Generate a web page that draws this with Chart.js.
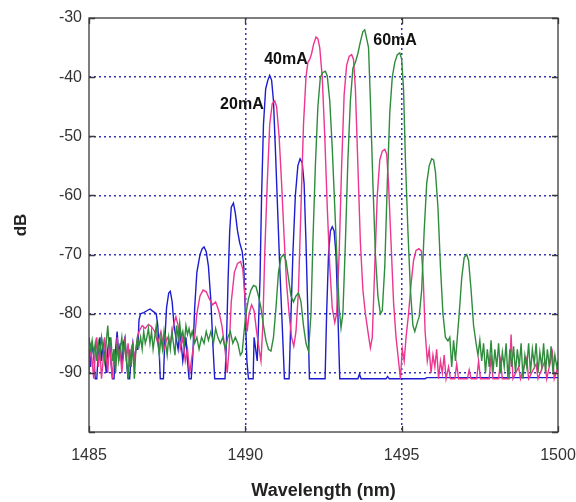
<!DOCTYPE html>
<html>
<head>
<meta charset="utf-8">
<script src="https://cdn.jsdelivr.net/npm/chart.js@4.4.1/dist/chart.umd.min.js"></script>
<style>
html,body{margin:0;padding:0;background:#fff;}
#wrap{width:576px;height:502px;}
</style>
</head>
<body>
<div id="wrap"><canvas id="c" width="576" height="502"></canvas></div>
<script>
// ---- data (wavelength nm, level dB) ----
const xTickValues = [1485, 1490, 1495, 1500];
const yTickValues = [-30, -40, -50, -60, -70, -80, -90, -100];
const seriesNames = ['20mA', '40mA', '60mA'];
const labelPositions = [[1489.89, -44.7], [1491.30, -37.0], [1494.79, -33.9]];

const trace20mA = [
[1485.00,-86],[1485.05,-89],[1485.10,-85],[1485.15,-87],[1485.20,-91],[1485.25,-91],[1485.30,-86],[1485.35,-84],[1485.40,-88],[1485.45,-85],
[1485.50,-87],[1485.55,-90],[1485.60,-86],[1485.65,-84],[1485.70,-88],[1485.75,-91],[1485.80,-91],[1485.85,-86],[1485.90,-83],[1485.95,-87],
[1486.00,-85],[1486.05,-89],[1486.10,-85],[1486.15,-84],[1486.20,-88],[1486.25,-91],[1486.30,-91],[1486.35,-87],[1486.40,-85],[1486.45,-88],
[1486.50,-86],[1486.56,-86],[1486.60,-81],[1486.65,-80],[1486.75,-79.8],[1486.85,-79.5],[1486.95,-79.2],[1487.05,-79.6],[1487.15,-80],[1487.20,-82],
[1487.25,-87],[1487.28,-91],[1487.38,-91],[1487.42,-85],[1487.48,-79],[1487.55,-76.5],[1487.60,-76.2],[1487.66,-78],[1487.72,-82],[1487.78,-84],
[1487.85,-86],[1487.90,-83],[1487.95,-85],[1488.00,-88],[1488.05,-86],[1488.10,-84],[1488.15,-88],[1488.20,-91],[1488.27,-91],[1488.32,-87],
[1488.38,-79],[1488.45,-73],[1488.55,-70],[1488.62,-69],[1488.68,-68.7],[1488.75,-69.5],[1488.82,-72],[1488.90,-78],[1488.96,-85],[1489.02,-91],
[1489.35,-91],[1489.40,-84],[1489.45,-74],[1489.50,-66],[1489.55,-62],[1489.62,-61.3],[1489.68,-63],[1489.75,-66],[1489.82,-68],[1489.90,-69.5],
[1489.95,-72],[1490.00,-80],[1490.05,-88],[1490.10,-91],[1490.25,-91],[1490.28,-84],[1490.33,-86],[1490.38,-88],[1490.42,-82],[1490.47,-74],
[1490.52,-60],[1490.58,-48],[1490.65,-42],[1490.72,-40.5],[1490.78,-39.7],[1490.84,-40.5],[1490.90,-44],[1490.96,-52],[1491.03,-62],[1491.10,-72],
[1491.18,-82],[1491.25,-91],[1491.40,-91],[1491.45,-82],[1491.52,-70],[1491.60,-60],[1491.68,-55],[1491.75,-53.8],[1491.82,-54.5],[1491.88,-58],
[1491.94,-68],[1492.00,-80],[1492.05,-91],[1492.55,-91],[1492.60,-80],[1492.66,-70],[1492.72,-66],[1492.78,-65.3],[1492.84,-66],[1492.90,-70],
[1492.96,-80],[1493.02,-91],[1493.60,-91],[1493.65,-90.2],[1493.70,-91],[1494.50,-91],[1494.55,-90.6],[1494.60,-91],[1495.75,-91],[1495.80,-90.8],
[1500.00,-90.8]
];

const trace40mA = [
[1485.00,-90],[1485.05,-85],[1485.10,-88],[1485.15,-91],[1485.20,-87],[1485.25,-84],[1485.30,-89],[1485.35,-86],[1485.40,-91],[1485.45,-88],
[1485.50,-84],[1485.55,-87],[1485.60,-90],[1485.65,-85],[1485.70,-88],[1485.75,-91],[1485.80,-86],[1485.85,-89],[1485.90,-84],[1485.95,-88],
[1486.00,-86],[1486.05,-90],[1486.10,-87],[1486.15,-84],[1486.20,-88],[1486.25,-85],[1486.30,-89],[1486.35,-86],[1486.40,-85],[1486.45,-88],
[1486.50,-86],[1486.55,-84],[1486.60,-83],[1486.70,-82],[1486.80,-82.5],[1486.90,-81.8],[1487.00,-82.2],[1487.10,-83],[1487.20,-85],[1487.30,-83],
[1487.40,-86],[1487.50,-84],[1487.60,-85],[1487.70,-82],[1487.78,-80.5],[1487.85,-82],[1487.92,-86],[1488.00,-84],[1488.08,-88],[1488.15,-86],
[1488.22,-90],[1488.30,-87],[1488.38,-84],[1488.45,-80],[1488.55,-77],[1488.65,-76],[1488.75,-76.3],[1488.85,-77.5],[1488.95,-78.5],[1489.05,-78],
[1489.15,-79.5],[1489.25,-82],[1489.35,-86],[1489.42,-90],[1489.48,-86],[1489.55,-78],[1489.65,-73],[1489.75,-71.5],[1489.85,-71.2],[1489.92,-72.5],
[1490.00,-78],[1490.06,-83],[1490.12,-80],[1490.20,-78.5],[1490.28,-79.5],[1490.36,-83],[1490.44,-86],[1490.50,-88],[1490.56,-82],[1490.62,-70],
[1490.70,-58],[1490.78,-48],[1490.86,-44.5],[1490.94,-44],[1491.00,-45],[1491.08,-50],[1491.16,-58],[1491.24,-67],[1491.32,-75],[1491.40,-80],
[1491.48,-84],[1491.55,-85.5],[1491.62,-83],[1491.70,-76],[1491.78,-62],[1491.86,-48],[1491.94,-40],[1492.00,-37.5],[1492.06,-37],[1492.12,-36],
[1492.18,-34.5],[1492.26,-33.2],[1492.32,-33.5],[1492.38,-35],[1492.46,-40],[1492.54,-50],[1492.62,-62],[1492.70,-72],[1492.78,-79],[1492.86,-81.5],
[1492.92,-80],[1493.00,-70],[1493.08,-55],[1493.16,-43],[1493.24,-38],[1493.32,-36.5],[1493.40,-36.2],[1493.46,-37],[1493.52,-42],[1493.60,-55],
[1493.68,-68],[1493.76,-76],[1493.84,-80],[1493.92,-83],[1494.00,-85.8],[1494.06,-84],[1494.14,-72],[1494.22,-60],[1494.30,-54],[1494.38,-52.5],
[1494.46,-52.2],[1494.52,-53],[1494.58,-58],[1494.66,-68],[1494.74,-78],[1494.82,-84],[1494.90,-88],[1494.96,-91],[1495.02,-86],[1495.08,-88],
[1495.14,-84],[1495.22,-80],[1495.30,-75],[1495.38,-71],[1495.46,-69.3],[1495.55,-69],[1495.63,-69.4],[1495.69,-74],[1495.75,-83],[1495.82,-88],
[1495.88,-86],[1495.94,-90],[1496.00,-87],[1496.06,-89],[1496.12,-86],[1496.18,-91],[1496.24,-88],[1496.30,-90],[1496.36,-87],[1496.42,-91],
[1496.50,-89],[1496.56,-91],[1496.70,-91],[1496.76,-88.5],[1496.82,-91],[1497.10,-91],[1497.16,-89.5],[1497.22,-91],[1497.40,-91],[1497.46,-88],
[1497.52,-91],[1497.80,-91],[1497.86,-87],[1497.92,-91],[1498.10,-91],[1498.16,-88],[1498.22,-91],[1498.44,-91],[1498.50,-83.5],[1498.56,-91],
[1498.74,-89],[1498.80,-91],[1499.00,-87.5],[1499.06,-91],[1499.30,-88.5],[1499.36,-91],[1499.58,-88],[1499.64,-91],[1499.82,-86.5],[1499.88,-91],
[1500.00,-89]
];

const trace60mA = [
[1485.00,-84],[1485.05,-86],[1485.10,-84.5],[1485.15,-87],[1485.20,-85],[1485.25,-88],[1485.30,-85],[1485.35,-87],[1485.40,-84],[1485.45,-86],
[1485.50,-88],[1485.55,-85],[1485.60,-82],[1485.65,-86],[1485.70,-84],[1485.75,-88],[1485.80,-86],[1485.85,-90],[1485.90,-85],[1485.95,-88],
[1486.00,-86],[1486.05,-84],[1486.10,-87],[1486.15,-85],[1486.20,-88],[1486.25,-91],[1486.30,-86],[1486.35,-89],[1486.40,-85],[1486.45,-91],
[1486.50,-86],[1486.55,-84],[1486.60,-85.5],[1486.65,-84],[1486.70,-86],[1486.75,-83],[1486.80,-85],[1486.85,-84],[1486.90,-82.5],[1486.95,-85],
[1487.00,-83],[1487.05,-86],[1487.10,-84],[1487.15,-82],[1487.20,-85],[1487.25,-87],[1487.30,-84],[1487.35,-86],[1487.40,-83],[1487.45,-85],
[1487.50,-87],[1487.55,-84],[1487.60,-86],[1487.65,-83],[1487.70,-85],[1487.75,-87],[1487.80,-82],[1487.85,-84],[1487.90,-81.5],[1487.95,-84],
[1488.00,-83],[1488.05,-85],[1488.10,-82],[1488.15,-83.5],[1488.20,-82.5],[1488.25,-84],[1488.30,-83],[1488.38,-85],[1488.45,-84],[1488.52,-86],
[1488.60,-84],[1488.68,-85],[1488.75,-83],[1488.82,-84.5],[1488.90,-83],[1488.98,-85],[1489.05,-82.5],[1489.12,-84],[1489.20,-85],[1489.28,-84],
[1489.36,-86],[1489.44,-84],[1489.52,-83],[1489.60,-85],[1489.68,-84],[1489.76,-85],[1489.84,-87],[1489.90,-86.5],[1489.96,-83],[1490.02,-80],
[1490.10,-77.5],[1490.18,-76],[1490.26,-75.2],[1490.34,-75.4],[1490.42,-77],[1490.50,-79],[1490.58,-82],[1490.66,-84.5],[1490.74,-86],[1490.82,-86.3],
[1490.90,-84],[1490.98,-79],[1491.06,-73],[1491.14,-70.5],[1491.22,-70],[1491.30,-71],[1491.38,-74],[1491.46,-77],[1491.54,-78],[1491.62,-77],
[1491.70,-76.5],[1491.78,-78],[1491.86,-82],[1491.94,-85],[1492.02,-86.3],[1492.10,-80],[1492.16,-68],[1492.24,-55],[1492.32,-45],[1492.40,-40],
[1492.48,-39.2],[1492.56,-39],[1492.62,-39.8],[1492.70,-44],[1492.78,-52],[1492.86,-62],[1492.94,-72],[1493.00,-79],[1493.06,-82.4],[1493.12,-80],
[1493.20,-68],[1493.28,-54],[1493.36,-44],[1493.44,-38.5],[1493.52,-37.5],[1493.60,-36],[1493.68,-34],[1493.76,-32.3],[1493.82,-32],[1493.88,-33.5],
[1493.94,-35],[1494.00,-44],[1494.08,-58],[1494.16,-70],[1494.24,-77],[1494.32,-80],[1494.38,-79.5],[1494.46,-72],[1494.54,-58],[1494.62,-46],
[1494.70,-40],[1494.78,-37.5],[1494.86,-36.2],[1494.94,-35.9],[1495.00,-37],[1495.06,-42],[1495.12,-54],[1495.20,-66],[1495.28,-76],[1495.36,-82],
[1495.42,-83],[1495.50,-81.5],[1495.56,-80.5],[1495.64,-76],[1495.72,-66],[1495.80,-58],[1495.88,-55],[1495.96,-53.8],[1496.02,-54],[1496.08,-56],
[1496.16,-62],[1496.24,-72],[1496.32,-80],[1496.40,-84],[1496.48,-84.6],[1496.54,-84],[1496.60,-89],[1496.66,-84.5],[1496.72,-88],[1496.78,-84],
[1496.84,-80],[1496.92,-74],[1497.00,-70.5],[1497.08,-70],[1497.14,-71],[1497.22,-76],[1497.30,-82],[1497.38,-85],[1497.44,-87],[1497.50,-84.5],
[1497.56,-88],[1497.62,-85],[1497.68,-90],[1497.74,-86],[1497.80,-89],[1497.86,-84.5],[1497.92,-90],[1497.98,-86],[1498.04,-89],[1498.10,-85],
[1498.16,-90],[1498.22,-86.5],[1498.28,-89],[1498.34,-85],[1498.40,-91],[1498.46,-86],[1498.52,-89],[1498.58,-85.5],[1498.64,-90],[1498.70,-86],
[1498.76,-89],[1498.82,-85],[1498.88,-91],[1498.94,-87],[1499.00,-89],[1499.06,-85],[1499.12,-90],[1499.18,-86],[1499.24,-88.5],[1499.30,-85],
[1499.36,-90],[1499.42,-86.5],[1499.48,-89],[1499.54,-85],[1499.60,-90],[1499.66,-86],[1499.72,-89],[1499.78,-85.5],[1499.84,-90],[1499.90,-87],
[1499.96,-89],[1500.00,-88]
];

const seriesColors = ['#1d1dd0', '#ec3690', '#2f8c3c'];
const traces = [trace20mA, trace40mA, trace60mA];

const toPoints = arr => arr.map(p => ({x: p[0], y: p[1]}));

const framePlugin = {
  id: 'frameAndLabels',
  afterDatasetsDraw(chart) {
    const {ctx, chartArea: {left, right, top, bottom}, scales: {x, y}} = chart;
    ctx.save();
    ctx.strokeStyle = '#3a3a3a';
    ctx.lineWidth = 1.3;
    ctx.strokeRect(left, top, right - left, bottom - top);
    ctx.beginPath();
    yTickValues.forEach(v => {
      const py = Math.round(y.getPixelForValue(v)) + 0.5;
      ctx.moveTo(left, py); ctx.lineTo(left + 6, py);
      ctx.moveTo(right, py); ctx.lineTo(right - 6, py);
    });
    xTickValues.forEach(v => {
      const px = Math.round(x.getPixelForValue(v)) + 0.5;
      ctx.moveTo(px, bottom); ctx.lineTo(px, bottom - 6);
      ctx.moveTo(px, top); ctx.lineTo(px, top + 6);
    });
    ctx.stroke();
    ctx.fillStyle = '#111';
    ctx.font = 'bold 16px "Liberation Sans", Arial, sans-serif';
    ctx.textAlign = 'center';
    ctx.textBaseline = 'middle';
    seriesNames.forEach((n, i) => {
      ctx.fillText(n, x.getPixelForValue(labelPositions[i][0]), y.getPixelForValue(labelPositions[i][1]));
    });
    ctx.restore();
  }
};

new Chart(document.getElementById('c'), {
  type: 'line',
  data: {
    datasets: [2, 1, 0].map(i => ({
      label: seriesNames[i],
      data: toPoints(traces[i]),
      borderColor: seriesColors[i],
      borderWidth: 1.4,
      pointRadius: 0,
      tension: 0,
      fill: false
    }))
  },
  options: {
    responsive: false,
    animation: false,
    events: [],
    layout: {padding: {left: 0, right: 0, top: 18, bottom: 0}},
    plugins: {legend: {display: false}, tooltip: {enabled: false}},
    scales: {
      x: {
        type: 'linear',
        min: 1485, max: 1500,
        afterFit: s => { s.height = 70; s.paddingRight = 18; s.paddingLeft = 0; },
        afterBuildTicks: s => { s.ticks = xTickValues.map(v => ({value: v})); },
        ticks: {color: '#333', padding: 14, maxRotation: 0, font: {size: 16, family: '"Liberation Sans", Arial, sans-serif'},
                callback: v => String(v)},
        grid: {
          drawTicks: false,
          lineWidth: 1.5,
          color: c => (c.tick && (c.tick.value === 1485 || c.tick.value === 1500)) ? 'rgba(0,0,0,0)' : '#3535b8'
        },
        border: {display: false, dash: [2, 3]},
        title: {display: true, text: 'Wavelength (nm)', color: '#222', padding: {top: 0, bottom: 0},
                font: {size: 18, weight: 'bold', family: '"Liberation Sans", Arial, sans-serif'}}
      },
      y: {
        type: 'linear',
        min: -100, max: -30,
        afterFit: s => { s.width = 89; },
        afterBuildTicks: s => { s.ticks = yTickValues.slice().reverse().map(v => ({value: v})); },
        ticks: {
          color: '#333', padding: 7,
          font: {size: 16, family: '"Liberation Sans", Arial, sans-serif'},
          callback: v => (v === -100 ? '' : String(v))
        },
        grid: {
          drawTicks: false,
          lineWidth: 1.5,
          color: c => (c.tick && (c.tick.value === -30 || c.tick.value === -100)) ? 'rgba(0,0,0,0)' : '#3535b8'
        },
        border: {display: false, dash: [2, 3]},
        title: {display: true, text: 'dB', color: '#222', padding: {top: 11, bottom: 0},
                font: {size: 17, weight: 'bold', family: '"Liberation Sans", Arial, sans-serif'}}
      }
    }
  },
  plugins: [framePlugin]
});
</script>
</body>
</html>
